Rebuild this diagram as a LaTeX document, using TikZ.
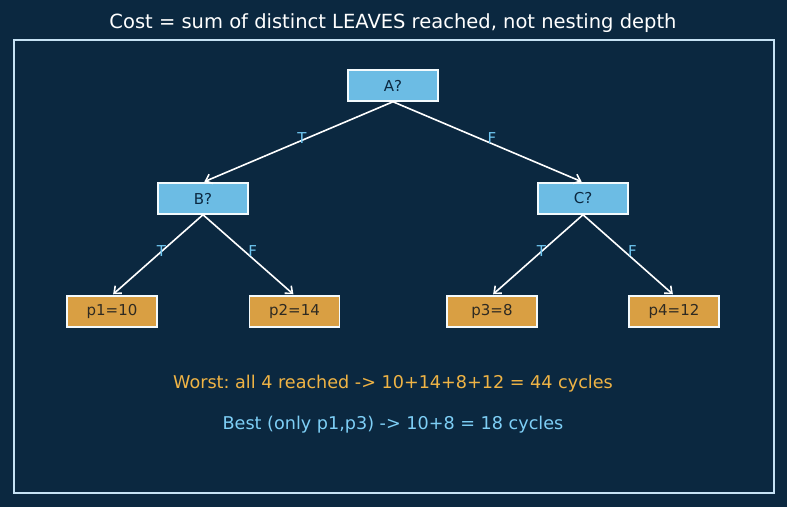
\documentclass[tikz,border=0pt]{standalone}
\usepackage{fontspec}
\setmainfont{DejaVu Sans}
\usetikzlibrary{arrows.meta, positioning}
\definecolor{bgnavy}{HTML}{0B2840}
\definecolor{framecol}{HTML}{C6E2F4}
\definecolor{decblue}{HTML}{6CBCE4}
\definecolor{leaforange}{HTML}{D99F43}
\definecolor{lblblue}{HTML}{6EC6F0}
\definecolor{worstcol}{HTML}{F0B445}
\definecolor{bestcol}{HTML}{7ECFF6}
\definecolor{leaftext}{HTML}{2E2A22}
\frenchspacing

\begin{document}
\begin{tikzpicture}[
  x=1pt, y=-1pt,
  font=\fontsize{15}{18}\selectfont,
  dec/.style={draw=white!92!decblue, line width=1.5pt, fill=decblue, text=bgnavy, minimum height=31pt, minimum width=90pt, inner sep=0pt},
  leaf/.style={dec, fill=leaforange, text=leaftext},
  arr/.style={-{Straight Barb[length=6pt, width=10pt]}, draw=white, line width=1.6pt, shorten >=1.5pt},
  lbl/.style={text=lblblue, xshift=4pt, yshift=4pt, inner sep=0pt}
]
  \fill[bgnavy] (0,0) rectangle (787,507);
  \useasboundingbox (0,0) rectangle (787,507);
  \node[text=white, font=\fontsize{19.5}{23}\selectfont] (title) at (393,23) {Cost = sum of distinct LEAVES reached, not nesting depth};
  \draw[framecol, line width=2pt] (14,40) rectangle (774,493);

  \node[dec] (a) at (393,85.5) {A?};
  \node[dec] (b) at (203,198.5) {B?};
  \node[dec] (c) at (583,198.5) {C?};
  \node[leaf] (p1) at (112,311.5) {p1=10};
  \node[leaf] (p2) at (294.5,311.5) {p2=14};
  \node[leaf] (p3) at (492,311.5) {p3=8};
  \node[leaf] (p4) at (674,311.5) {p4=12};
  \foreach \a/\b/\l in {a/b/T,a/c/F,b/p1/T,b/p2/F,c/p3/T,c/p4/F}
    \draw[arr] (\a.south) -- node[lbl] {\l} (\b.north);

  \node[text=worstcol, font=\fontsize{17.6}{21}\selectfont] (worst) at (393,384) {Worst: all 4 reached -> 10+14+8+12 = 44 cycles};
  \node[text=bestcol, font=\fontsize{17.6}{21}\selectfont, below=41pt of worst.center, anchor=center] (best) {Best (only p1,p3) -> 10+8 = 18 cycles};
\end{tikzpicture}
\end{document}
